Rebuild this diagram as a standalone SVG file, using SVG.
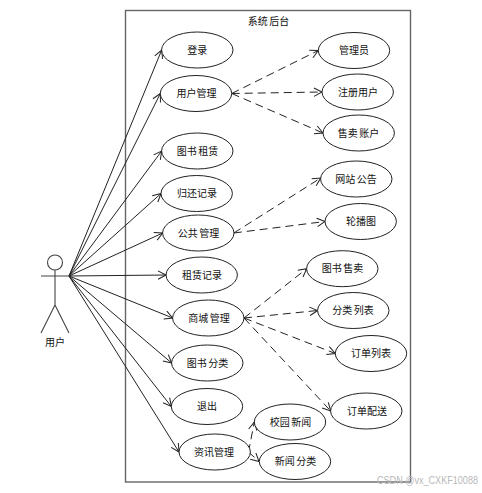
<svg xmlns="http://www.w3.org/2000/svg" width="482" height="493" viewBox="0 0 482 493">
<style>
text{font-family:"Noto Sans CJK SC","Liberation Sans",sans-serif;font-size:10px;fill:#111;text-anchor:middle}
.uc{fill:#fff;stroke:#222;stroke-width:1}
.l{fill:none;stroke:#222;stroke-width:1;marker-end:url(#a)}
.d{stroke-dasharray:8 5}
.wm{font-family:"Liberation Sans",sans-serif;fill:#b8b8b8;font-size:10px;text-anchor:start}
</style>
<defs><marker id="a" markerUnits="userSpaceOnUse" markerWidth="12" markerHeight="12" refX="9" refY="6" orient="auto"><path d="M1 1.8L9 6L1 10.2" fill="none" stroke="#222" stroke-width="1"/></marker></defs>
<rect id="frame" x="125.5" y="10.5" width="285" height="471.5" fill="#fff" stroke="#666" stroke-width="1.4"/>
<text id="frame-title" x="268.5" y="24.5">系统<tspan dx="1.5">后台</tspan></text>
<g id="connectors">
<path class="l" d="M69 276L161.7 50"/>
<path class="l" d="M69 276L160.3 93.5"/>
<path class="l" d="M69 276L161.7 151"/>
<path class="l" d="M69 276L161 193.5"/>
<path class="l" d="M69 276L162.7 233"/>
<path class="l" d="M69 276L166 275"/>
<path class="l" d="M69 276L172.7 318"/>
<path class="l" d="M69 276L171.7 363"/>
<path class="l" d="M69 276L171.3 406.5"/>
<path class="l" d="M69 276L179 452"/>
<path class="l d" d="M231.7 93.5L318.3 50.5"/>
<path class="l d" d="M231.7 93.5L322 92"/>
<path class="l d" d="M231.7 93.5L323 133"/>
<path class="l d" d="M233.8 233L320.7 178"/>
<path class="l d" d="M233.8 233L325 221.5"/>
<path class="l d" d="M244 318L306.7 268.7"/>
<path class="l d" d="M244 318L317.7 310.5"/>
<path class="l d" d="M244 318L335.3 353.5"/>
<path class="l d" d="M244 318L330.7 411"/>
<path class="l d" d="M248.5 452L254.3 422"/>
<path class="l d" d="M248.5 452L259 461.5"/>
</g>
<g id="actor" fill="none" stroke="#444" stroke-width="1.1">
<circle cx="55" cy="262.5" r="7.5" fill="#fff"/>
<path d="M55 270V305M41 276H69M55 305L41 333M55 305L69 333"/>
<text x="55" y="346" stroke="none">用户</text>
</g>
<g id="uc-login"><ellipse class="uc" cx="197.3" cy="50" rx="35.7" ry="18"/><text x="197.3" y="53.5">登录</text></g>
<g id="uc-user"><ellipse class="uc" cx="196" cy="93.5" rx="35.7" ry="18"/><text x="196.5" y="97">用户管理</text></g>
<g id="uc-rent"><ellipse class="uc" cx="197.3" cy="151" rx="35.7" ry="18"/><text x="197.5" y="154.5">图书<tspan dx="1.5">租赁</tspan></text></g>
<g id="uc-return"><ellipse class="uc" cx="196.7" cy="193.5" rx="35.7" ry="18"/><text x="197" y="197">归还记录</text></g>
<g id="uc-public"><ellipse class="uc" cx="198.3" cy="233" rx="35.7" ry="18"/><text x="198.5" y="236.5">公共<tspan dx="1.5">管理</tspan></text></g>
<g id="uc-rentlog"><ellipse class="uc" cx="201.7" cy="275" rx="35.7" ry="18"/><text x="202" y="278.5">租赁记录</text></g>
<g id="uc-mall"><ellipse class="uc" cx="208.3" cy="318" rx="35.7" ry="18"/><text x="209" y="321.5">商城<tspan dx="1.5">管理</tspan></text></g>
<g id="uc-category"><ellipse class="uc" cx="207.3" cy="363" rx="35.7" ry="18"/><text x="207.5" y="366.5">图书<tspan dx="1.5">分类</tspan></text></g>
<g id="uc-exit"><ellipse class="uc" cx="207" cy="406.5" rx="35.7" ry="18"/><text x="207" y="410">退出</text></g>
<g id="uc-news"><ellipse class="uc" cx="214.7" cy="452" rx="35.7" ry="18"/><text x="214" y="455.5">资讯管理</text></g>
<g id="uc-admin"><ellipse class="uc" cx="354" cy="50.5" rx="35.7" ry="18"/><text x="354" y="54">管理员</text></g>
<g id="uc-register"><ellipse class="uc" cx="357.7" cy="92" rx="35.7" ry="18"/><text x="358" y="95.5">注册用户</text></g>
<g id="uc-seller"><ellipse class="uc" cx="358.7" cy="133" rx="35.7" ry="18"/><text x="358.5" y="136.5">售卖<tspan dx="1.5">账户</tspan></text></g>
<g id="uc-notice"><ellipse class="uc" cx="356.3" cy="179" rx="35.7" ry="18"/><text x="356" y="182.5">网站<tspan dx="1.5">公告</tspan></text></g>
<g id="uc-banner"><ellipse class="uc" cx="360.7" cy="221.5" rx="35.7" ry="18"/><text x="361" y="225">轮播图</text></g>
<g id="uc-booksale"><ellipse class="uc" cx="342.3" cy="268.7" rx="35.7" ry="18"/><text x="342.5" y="272">图书<tspan dx="1.5">售卖</tspan></text></g>
<g id="uc-catlist"><ellipse class="uc" cx="353.3" cy="310.5" rx="35.7" ry="18"/><text x="353" y="314">分类<tspan dx="1.5">列表</tspan></text></g>
<g id="uc-orders"><ellipse class="uc" cx="371" cy="353.5" rx="35.7" ry="18"/><text x="371" y="357">订单列表</text></g>
<g id="uc-delivery"><ellipse class="uc" cx="366.3" cy="411" rx="35.7" ry="18"/><text x="367" y="414.5">订单配送</text></g>
<g id="uc-campus"><ellipse class="uc" cx="290" cy="422" rx="35.7" ry="18"/><text x="290.5" y="425.5">校园<tspan dx="1.5">新闻</tspan></text></g>
<g id="uc-newscat"><ellipse class="uc" cx="295" cy="461.5" rx="35.7" ry="18"/><text x="295.5" y="465">新闻<tspan dx="1.5">分类</tspan></text></g>
<text class="wm" x="377" y="484" textLength="101" lengthAdjust="spacingAndGlyphs">CSDN @vx_CXKF10088</text>
</svg>
